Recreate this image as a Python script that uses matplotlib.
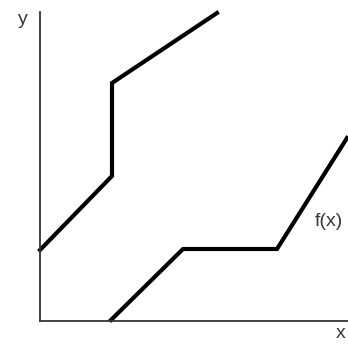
import matplotlib
matplotlib.use("Agg")
import matplotlib.pyplot as plt

# two piecewise-linear curves, in axis units (origin at the axes corner)
upper_x = [0, 72, 72, 177]
upper_y = [71, 145, 238, 308]
lower_x = [71, 143, 237, 307]
lower_y = [1, 72, 72, 183]

fig = plt.figure(figsize=(3.48, 3.5), dpi=100)
ax = fig.add_axes([40 / 348, 29 / 350, 308 / 348, 321 / 350])
ax.set_xlim(0, 308)
ax.set_ylim(0, 321)

ax.plot(upper_x, upper_y, color="black", lw=3, solid_joinstyle="miter", clip_on=False)
ax.plot(lower_x, lower_y, color="black", lw=3, solid_joinstyle="miter", clip_on=False)

for side in ["top", "right"]:
    ax.spines[side].set_visible(False)
ax.spines["left"].set_bounds(0, 309)
for side in ["left", "bottom"]:
    ax.spines[side].set_color("#333333")
    ax.spines[side].set_linewidth(1.3)
ax.set_xticks([])
ax.set_yticks([])

font = dict(family="Liberation Sans", color="#3a3a3a", fontsize=14)
fig.text(23 / 348, 1 - 19 / 350, "y", ha="center", va="center", **font)
fig.text(341 / 348, 1 - 334 / 350, "x", ha="center", va="center", **font)
fig.text(329 / 348, 1 - 222 / 350, "f(x)", ha="center", va="center", **font)

fig.savefig("out.png", dpi=100)
